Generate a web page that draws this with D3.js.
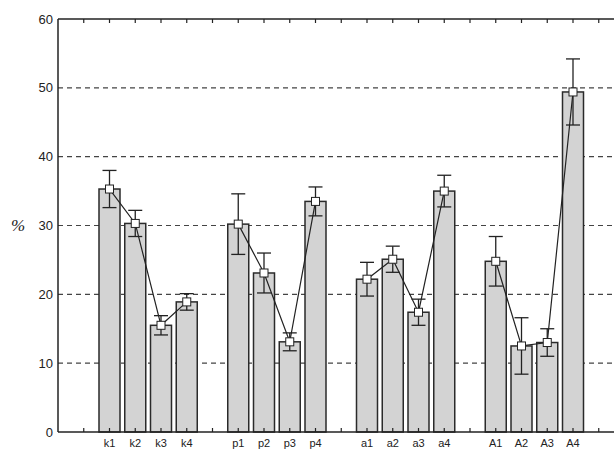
<!DOCTYPE html>
<html>
<head>
<meta charset="utf-8">
<script src="https://cdn.jsdelivr.net/npm/d3@7"></script>
<style>
  body { margin: 0; background: #fff; }
  svg text { font-family: "Liberation Sans", Arial, sans-serif; fill: #222; }
</style>
</head>
<body>
<svg id="chart" width="614" height="450"></svg>
<script>
// groups of four bars, an empty slot between groups
const groups = ["k", "p", "a", "A"]
const labels = [["k1", "k2", "k3", "k4"], ["p1", "p2", "p3", "p4"], ["a1", "a2", "a3", "a4"], ["A1", "A2", "A3", "A4"]]
const means = [[35.3, 30.3, 15.5, 18.9], [30.2, 23.1, 13.1, 33.5], [22.2, 25.1, 17.4, 35.0], [24.8, 12.5, 13.0, 49.4]]
const errs = [[2.7, 1.9, 1.4, 1.2], [4.4, 2.9, 1.3, 2.1], [2.45, 1.9, 1.9, 2.3], [3.6, 4.1, 2.0, 4.8]]
const yTicks = [0, 10, 20, 30, 40, 50, 60]
const slotTicks = d3.range(0, 21)

const svg = d3.select("#chart")
const margin = { top: 19, left: 58, bottom: 18 }
const height = 450
const plotBottom = height - margin.bottom

// slot index -1 sits on the left axis; the frame runs past the window on the right
const x = d3.scaleLinear().domain([-1, 21]).range([margin.left, 624.5])
const y = d3.scaleLinear().domain([0, 60]).range([plotBottom, margin.top])

// flatten into rows with a slot index
const rows = []
groups.forEach((g, gi) => {
  labels[gi].forEach((lab, i) => {
    rows.push({ group: g, label: lab, slot: gi * 5 + 1 + i, v: means[gi][i], e: errs[gi][i] })
  })
})

// dashed gridlines
svg.append("g")
  .selectAll("line")
  .data(yTicks.filter(t => t > 0 && t < 60))
  .join("line")
  .attr("x1", x(-1)).attr("x2", x(21))
  .attr("y1", d => y(d)).attr("y2", d => y(d))
  .attr("stroke", "#444")
  .attr("stroke-width", 1.1)
  .attr("stroke-dasharray", "5,4")

const bw = 21
svg.append("g")
  .selectAll("rect")
  .data(rows)
  .join("rect")
  .attr("x", d => x(d.slot) - bw / 2)
  .attr("y", d => y(d.v))
  .attr("width", bw)
  .attr("height", d => y(0) - y(d.v))
  .attr("fill", "#d3d3d3")
  .attr("stroke", "#2a2a2a")
  .attr("stroke-width", 1.5)

// error bars
const eb = svg.append("g").attr("stroke", "#222").attr("stroke-width", 1.3)
eb.selectAll("line.v").data(rows).join("line").attr("class", "v")
  .attr("x1", d => x(d.slot)).attr("x2", d => x(d.slot))
  .attr("y1", d => y(d.v + d.e)).attr("y2", d => y(d.v - d.e))
eb.selectAll("line.t").data(rows).join("line").attr("class", "t")
  .attr("x1", d => x(d.slot) - 7).attr("x2", d => x(d.slot) + 7)
  .attr("y1", d => y(d.v + d.e)).attr("y2", d => y(d.v + d.e))
eb.selectAll("line.b").data(rows).join("line").attr("class", "b")
  .attr("x1", d => x(d.slot) - 7).attr("x2", d => x(d.slot) + 7)
  .attr("y1", d => y(d.v - d.e)).attr("y2", d => y(d.v - d.e))

// connecting lines per group
const line = d3.line().x(d => x(d.slot)).y(d => y(d.v))
svg.append("g")
  .selectAll("path")
  .data(groups.map(g => rows.filter(r => r.group === g)))
  .join("path")
  .attr("d", line)
  .attr("fill", "none")
  .attr("stroke", "#222")
  .attr("stroke-width", 1.2)

// square markers
svg.append("g")
  .selectAll("rect")
  .data(rows)
  .join("rect")
  .attr("x", d => x(d.slot) - 4)
  .attr("y", d => y(d.v) - 4)
  .attr("width", 8).attr("height", 8)
  .attr("fill", "#fff")
  .attr("stroke", "#222")
  .attr("stroke-width", 1)

// frame
const frame = svg.append("g").attr("stroke", "#222").attr("stroke-width", 1.5).attr("fill", "none")
frame.append("line").attr("x1", x(-1)).attr("x2", x(-1)).attr("y1", y(60)).attr("y2", y(0))
frame.append("line").attr("x1", x(-1)).attr("x2", x(21)).attr("y1", y(0)).attr("y2", y(0))
frame.append("line").attr("x1", x(-1)).attr("x2", x(21)).attr("y1", y(60)).attr("y2", y(60))

// inward ticks top and bottom
const tk = svg.append("g").attr("stroke", "#222").attr("stroke-width", 1.2)
tk.selectAll("line.bt").data(slotTicks).join("line").attr("class", "bt")
  .attr("x1", d => x(d)).attr("x2", d => x(d))
  .attr("y1", y(0)).attr("y2", y(0) - 4)
tk.selectAll("line.tt").data(slotTicks).join("line").attr("class", "tt")
  .attr("x1", d => x(d)).attr("x2", d => x(d))
  .attr("y1", y(60)).attr("y2", y(60) + 4)

// y tick labels
svg.append("g")
  .selectAll("text")
  .data(yTicks)
  .join("text")
  .attr("x", x(-1) - 5)
  .attr("y", d => y(d))
  .attr("dy", "0.35em")
  .attr("text-anchor", "end")
  .style("font-size", "13px")
  .text(d => d)

// x labels, kept just inside the window bottom
svg.append("g")
  .selectAll("text")
  .data(rows)
  .join("text")
  .attr("x", d => x(d.slot))
  .attr("y", 447)
  .attr("text-anchor", "middle")
  .style("font-size", "11px")
  .text(d => d.label)

svg.append("text")
  .attr("x", 18)
  .attr("y", y(30))
  .attr("dy", "0.35em")
  .attr("text-anchor", "middle")
  .style("font-family", "'Liberation Serif', serif")
  .style("font-style", "italic")
  .style("font-size", "17px")
  .text("%")
</script>
</body>
</html>
